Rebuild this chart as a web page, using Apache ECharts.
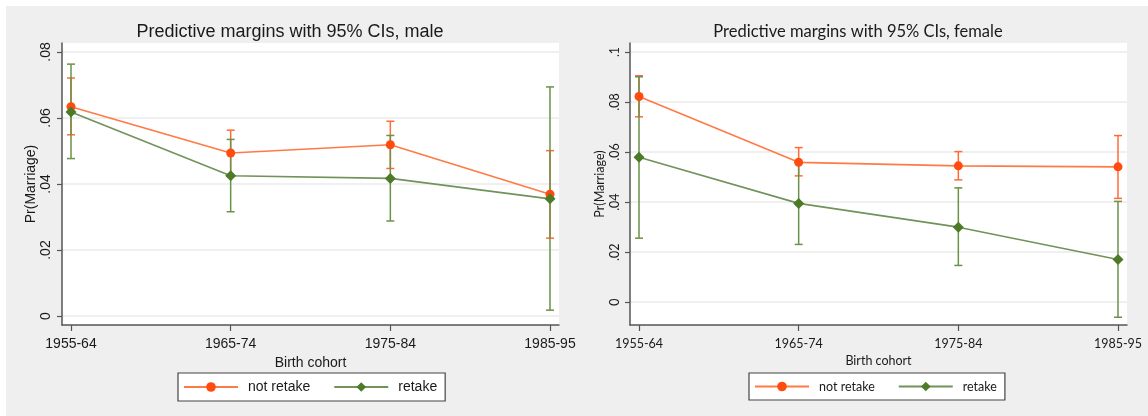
<!DOCTYPE html>
<html><head><meta charset="utf-8">
<script src="https://cdn.jsdelivr.net/npm/echarts@6/dist/echarts.min.js"></script>
<style>
html,body{margin:0;padding:0;background:#fff;}
#bg{position:absolute;left:6px;top:6px;width:1142px;height:410px;background:#EFEFEF;}
#c{position:absolute;left:0;top:0;width:1148px;height:416px;}
</style>
</head><body>
<div id="bg"></div><div id="c"></div>
<script>
const cohorts = ['1955-64', '1965-74', '1975-84', '1985-95'];
const cohortPos = [0, 1, 2, 3];
const maleTicks = [0, 0.02, 0.04, 0.06, 0.08];
const femaleTicks = [0, 0.02, 0.04, 0.06, 0.08, 0.1];

const maleNotRetake   = [0.0634, 0.0494, 0.0519, 0.0369];
const maleNotRetakeLo = [0.0549, 0.0425, 0.0447, 0.0236];
const maleNotRetakeHi = [0.0721, 0.0563, 0.0590, 0.0501];
const maleRetake      = [0.0618, 0.0425, 0.0417, 0.0355];
const maleRetakeLo    = [0.0477, 0.0316, 0.0288, 0.0018];
const maleRetakeHi    = [0.0763, 0.0535, 0.0547, 0.0694];

const femaleNotRetake   = [0.0822, 0.0559, 0.0545, 0.0541];
const femaleNotRetakeLo = [0.0741, 0.0505, 0.0489, 0.0415];
const femaleNotRetakeHi = [0.0905, 0.0618, 0.0602, 0.0666];
const femaleRetake      = [0.0579, 0.0395, 0.0300, 0.0171];
const femaleRetakeLo    = [0.0256, 0.0231, 0.0147, -0.0060];
const femaleRetakeHi    = [0.0901, 0.0560, 0.0457, 0.0403];

const ORANGE_LINE = '#FF7A45', ORANGE_MK = '#FF4B0F', ORANGE_CI = '#FF6B38';
const GREEN_LINE = '#71935A', GREEN_MK = '#4C7A27', GREEN_CI = '#6A9249';
const AXIS = '#555555', TXT = '#1a1a1a', GRIDC = '#EBEBEB';
const FONT_L = 'Liberation Sans, Arial, sans-serif';
const FONT_R = 'Lato, sans-serif';

function fmt(v) { if (Math.abs(v) < 1e-9) return '0'; return String(+v.toFixed(2)).replace(/^0/, ''); }
function pts(arr) { return arr.map((v, i) => [cohortPos[i], v]); }

function errSeries(lo, hi, color, idx) {
  return {
    type: 'custom', name: 'ci', xAxisIndex: idx, yAxisIndex: idx, silent: true, z: 2,
    data: lo.map((l, i) => [cohortPos[i], l, hi[i]]),
    encode: { x: 0, y: [1, 2] },
    renderItem: function (params, api) {
      const x = api.value(0);
      const a = api.coord([x, api.value(1)]);
      const b = api.coord([x, api.value(2)]);
      const w = 4;
      const st = { stroke: color, lineWidth: 1.5 };
      return { type: 'group', children: [
        { type: 'line', shape: { x1: a[0], y1: a[1], x2: b[0], y2: b[1] }, style: st },
        { type: 'line', shape: { x1: a[0] - w, y1: a[1], x2: a[0] + w, y2: a[1] }, style: st },
        { type: 'line', shape: { x1: b[0] - w, y1: b[1], x2: b[0] + w, y2: b[1] }, style: st }
      ]};
    }
  };
}
function lineSeries(name, vals, lineC, mkC, sym, size, idx) {
  return { type: 'line', name: name, xAxisIndex: idx, yAxisIndex: idx, data: pts(vals), z: 3,
    symbol: sym, symbolSize: size, showSymbol: true, silent: true,
    lineStyle: { color: lineC, width: 1.6 }, itemStyle: { color: mkC } };
}

const GW = 497, GH = 282, GT = 43;
const lefts = [62, 630];
function xAxis(idx, font, fs) {
  return { type: 'value', gridIndex: idx, min: -0.0564, max: 3.0564,
    axisLine: { show: true, onZero: false, lineStyle: { color: AXIS, width: 1.5 } },
    axisTick: { show: true, length: 6, customValues: cohortPos, lineStyle: { color: AXIS, width: 1.2 } },
    axisLabel: { customValues: cohortPos, formatter: v => cohorts[Math.round(v)], margin: 12,
      color: TXT, fontSize: fs, fontFamily: font },
    splitLine: { show: false },
    name: 'Birth cohort', nameLocation: 'middle', nameGap: 24,
    nameTextStyle: { color: TXT, fontSize: fs, fontFamily: font } };
}
function yAxis(idx, ticks, min, max, font, fs) {
  return { type: 'value', gridIndex: idx, min: min, max: max,
    axisLine: { show: true, onZero: false, lineStyle: { color: AXIS, width: 1.5 } },
    axisTick: { show: true, length: 5, customValues: ticks, lineStyle: { color: AXIS, width: 1.2 } },
    axisLabel: { customValues: ticks, rotate: 90, margin: 9, formatter: fmt,
      color: TXT, fontSize: fs, fontFamily: font },
    splitLine: { show: true, lineStyle: { color: GRIDC, width: 1.5 } },
    name: 'Pr(Marriage)', nameLocation: 'middle', nameGap: 24,
    nameTextStyle: { color: TXT, fontSize: fs, fontFamily: font } };
}
function legend(left, font, fs) {
  return { show: true, data: ['not retake', 'retake'], left: left, top: 373, orient: 'horizontal',
    itemWidth: 54, itemHeight: 12, itemGap: 23, padding: [7, 8, 7, 5],
    backgroundColor: '#fff', borderColor: '#444', borderWidth: 1.2, selectedMode: false,
    textStyle: { color: TXT, fontSize: fs, fontFamily: font, padding: [0, 0, 0, 5] } };
}

const chart = echarts.init(document.getElementById('c'));
chart.setOption({
  animation: false,
  backgroundColor: 'transparent',
  grid: lefts.map(l => ({ left: l, top: GT, width: GW, height: GH, show: true,
    backgroundColor: '#fff', borderWidth: 0 })),
  xAxis: [xAxis(0, FONT_L, 14), xAxis(1, FONT_R, 12.5)],
  yAxis: [yAxis(0, maleTicks, -0.0027, 0.0827, FONT_L, 14), yAxis(1, femaleTicks, -0.0091, 0.1036, FONT_R, 12.5)],
  legend: [legend(178, FONT_L, 14), legend(749, FONT_R, 12.5)],
  graphic: [
    { type: 'text', x: 290, y: 32, style: { text: 'Predictive margins with 95% CIs, male',
      textAlign: 'center', textVerticalAlign: 'middle', fill: TXT, font: '18px ' + FONT_L } },
    { type: 'text', x: 858, y: 32, style: { text: 'Predictive margins with 95% CIs, female',
      textAlign: 'center', textVerticalAlign: 'middle', fill: TXT, font: '16.5px ' + FONT_R } }
  ],
  series: [
    errSeries(maleNotRetakeLo, maleNotRetakeHi, ORANGE_CI, 0),
    errSeries(maleRetakeLo, maleRetakeHi, GREEN_CI, 0),
    lineSeries('not retake', maleNotRetake, ORANGE_LINE, ORANGE_MK, 'circle', 9, 0),
    lineSeries('retake', maleRetake, GREEN_LINE, GREEN_MK, 'diamond', 11, 0),
    errSeries(femaleNotRetakeLo, femaleNotRetakeHi, ORANGE_CI, 1),
    errSeries(femaleRetakeLo, femaleRetakeHi, GREEN_CI, 1),
    lineSeries('not retake', femaleNotRetake, ORANGE_LINE, ORANGE_MK, 'circle', 9, 1),
    lineSeries('retake', femaleRetake, GREEN_LINE, GREEN_MK, 'diamond', 11, 1)
  ]
});
</script>
</body></html>
